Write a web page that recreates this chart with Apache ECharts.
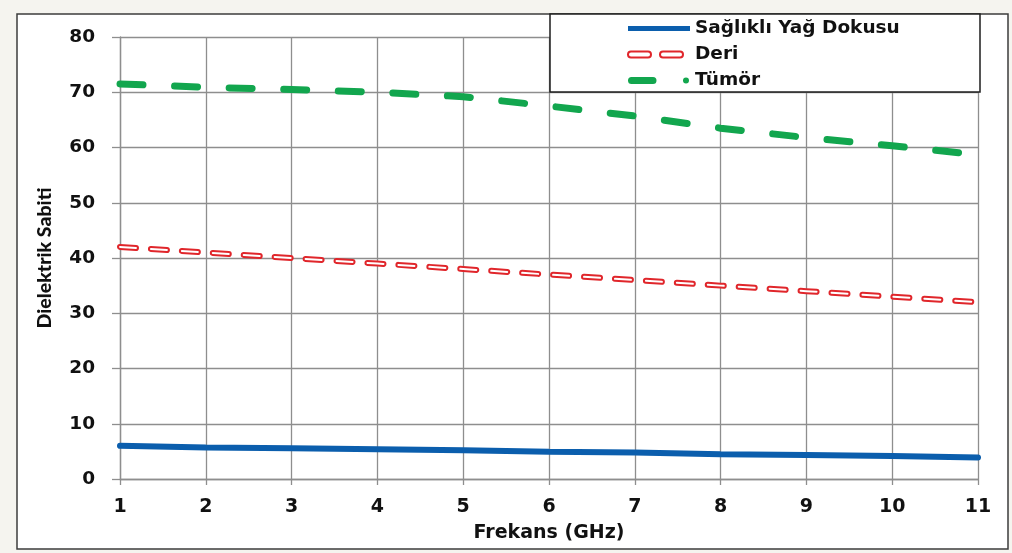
<!DOCTYPE html>
<html>
<head>
<meta charset="utf-8">
<script src="https://cdn.jsdelivr.net/npm/echarts@6/dist/echarts.min.js"></script>
<style>
  html, body { margin: 0; padding: 0; background: #f5f4ef; }
  #chart { width: 1012px; height: 553px; }
</style>
</head>
<body>
<div id="chart"></div>
<script>
// Frequency (GHz) on the x axis
const frequencies = [1, 2, 3, 4, 5, 6, 7, 8, 9, 10, 11];
// Dielectric constant per tissue type
const healthyFat = [6.0, 5.7, 5.55, 5.4, 5.2, 4.95, 4.8, 4.5, 4.35, 4.15, 3.9];
const skin = [42, 41, 40, 39, 38, 37, 36, 35, 34, 33, 32];
const tumor = [71.5, 70.9, 70.5, 70.0, 69.2, 67.5, 65.7, 63.5, 61.8, 60.3, 58.7];
const seriesNames = ['Sağlıklı Yağ Dokusu', 'Deri', 'Tümör'];
const yTicks = { min: 0, max: 80, step: 10 };
const xTicks = { min: 1, max: 11, step: 1 };

const pairs = vals => frequencies.map((f, i) => [f, vals[i]]);

const BLUE = '#0b5ead';
const RED = '#e0262b';
const GREEN = '#12a64e';
const GRID = '#8e8e8e';
const INK = '#111111';
const BOLD_FONT = 'DejaVu Sans';

const chart = echarts.init(document.getElementById('chart'), null, { renderer: 'canvas' });

chart.setOption({
  animation: false,
  backgroundColor: 'transparent',
  grid: { left: 120, right: 34, top: 37, bottom: 74, containLabel: false },
  graphic: [
    { type: 'rect', z: -1, shape: { x: 17, y: 14, width: 991, height: 535 },
      style: { fill: '#ffffff', stroke: '#3c3c3c', lineWidth: 1.5 } },
    { type: 'rect', z: 10, shape: { x: 550, y: 14, width: 430, height: 78 },
      style: { fill: '#ffffff', stroke: '#1e1e1e', lineWidth: 1.5 } }
  ],
  legend: {
    z: 11,
    orient: 'vertical',
    left: 627,
    top: 19,
    padding: 0,
    itemWidth: 62,
    itemHeight: 14,
    itemGap: 7,
    selectedMode: false,
    textStyle: { fontFamily: BOLD_FONT, fontWeight: 'bold', fontSize: 18.5, color: INK },
    data: [
      { name: seriesNames[0],
        icon: 'path://M0,0 M62,14 M0,4.5 H62 V9.5 H0 Z',
        itemStyle: { color: BLUE, borderWidth: 0 } },
      { name: seriesNames[1],
        icon: 'path://M0,0 M62,14 M3,4 H20 A3,3 0 0 1 20,10 H3 A3,3 0 0 1 3,4 Z M35,4 H52 A3,3 0 0 1 52,10 H35 A3,3 0 0 1 35,4 Z',
        itemStyle: { color: '#ffffff', borderColor: RED, borderWidth: 2 } },
      { name: seriesNames[2],
        icon: 'path://M0,0 M62,14 M3.5,3.5 H25 A3.5,3.5 0 0 1 25,10.5 H3.5 A3.5,3.5 0 0 1 3.5,3.5 Z M61,7 A3,3 0 1 1 55,7 A3,3 0 1 1 61,7 Z',
        itemStyle: { color: GREEN, borderWidth: 0 } }
    ]
  },
  xAxis: {
    type: 'value',
    min: xTicks.min, max: xTicks.max, interval: xTicks.step,
    name: 'Frekans (GHz)',
    nameLocation: 'middle',
    nameGap: 45,
    nameTextStyle: { fontFamily: BOLD_FONT, fontWeight: 'bold', fontSize: 19, color: INK },
    axisLine: { show: true, lineStyle: { color: GRID, width: 1.3 } },
    axisTick: { show: true, length: 6, lineStyle: { color: GRID, width: 1.3 } },
    axisLabel: { margin: 19, fontFamily: BOLD_FONT, fontWeight: 'bold', fontSize: 19, color: INK },
    splitLine: { show: true, lineStyle: { color: GRID, width: 1.3 } }
  },
  yAxis: {
    type: 'value',
    min: yTicks.min, max: yTicks.max, interval: yTicks.step,
    name: 'Dielektrik Sabiti',
    nameLocation: 'middle',
    nameGap: 65,
    nameTextStyle: { fontFamily: 'Lato', fontWeight: 900, fontSize: 19.5, color: INK },
    axisLine: { show: true, lineStyle: { color: GRID, width: 1.3 } },
    axisTick: { show: true, length: 8, lineStyle: { color: GRID, width: 1.3 } },
    axisLabel: { margin: 25, fontFamily: BOLD_FONT, fontWeight: 'bold', fontSize: 18.5, color: INK },
    splitLine: { show: true, lineStyle: { color: GRID, width: 1.3 } }
  },
  series: [
    { name: seriesNames[0], type: 'line', data: pairs(healthyFat), showSymbol: false, symbol: 'none',
      color: BLUE, z: 3,
      lineStyle: { color: BLUE, width: 6, cap: 'round' } },
    { name: seriesNames[1], type: 'line', data: pairs(skin), showSymbol: false, symbol: 'none',
      color: RED, z: 3,
      lineStyle: { color: RED, width: 6, type: [16, 15], cap: 'round' } },
    // white core inside the red dashes gives them a hollow look
    { name: 'deri-core', type: 'line', data: pairs(skin), showSymbol: false, symbol: 'none',
      color: '#fff', z: 4, silent: true,
      lineStyle: { color: '#ffffff', width: 2, type: [16, 15], cap: 'round' } },
    { name: seriesNames[2], type: 'line', data: pairs(tumor), showSymbol: false, symbol: 'none',
      color: GREEN, z: 3,
      lineStyle: { color: GREEN, width: 7, type: [23, 31.6], cap: 'round' } }
  ]
});
</script>
</body>
</html>
